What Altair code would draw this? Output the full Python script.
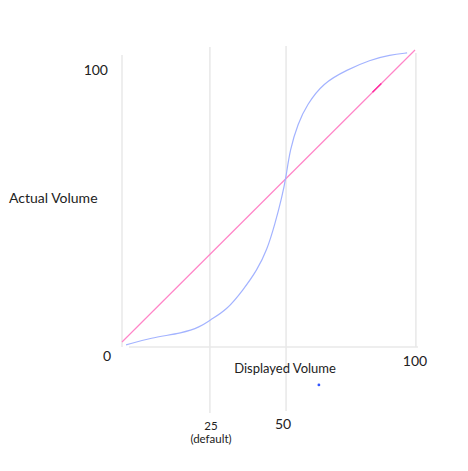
import altair as alt
import pandas as pd

# S-shaped volume curve (displayed -> actual)
curve_x = [1.4, 9.6, 20.8, 26.6, 30.0, 35.8, 41.3, 46.1, 49.5, 52.2, 54.6, 56.0,
           57.3, 60.1, 63.1, 68.6, 76.8, 84.6, 91.5, 97.3]
curve_y = [-1.0, 1.4, 3.1, 5.1, 7.5, 11.0, 17.8, 24.6, 31.5, 40.4, 49.7, 56.5,
           65.8, 75.0, 81.2, 88.7, 93.2, 96.6, 98.3, 99.0]

# identity (linear) reference line
ident_x = [0, 100]
ident_y = [0, 100]

# highlighted short piece of the identity line
hi_x = [85.5, 88.5]

# vertical guide lines
grid_x = [0, 30, 56, 100.3]
grid_top = [98.3, 101, 101.4, 99]
grid_bottom = [-1.7, -24.3, -23.6, -1.7]

# horizontal base line
base_x = [2.4, 101]
base_y = -1.7

# stray dot
dot_x = [67.2]
dot_y = [-14.7]

FONT = "Lato"
xs = alt.Scale(domain=[0, 100], range=[114, 407], nice=False, zero=False)
ys = alt.Scale(domain=[0, 100], range=[334, 42], nice=False, zero=False)

grid = alt.Chart(pd.DataFrame({"x": grid_x, "y": grid_bottom, "y2": grid_top})).mark_rule(
    color="#e8e8e8", strokeWidth=1.5
).encode(
    x=alt.X("x:Q", scale=xs, axis=None),
    y=alt.Y("y:Q", scale=ys, axis=None),
    y2="y2:Q",
)

base = alt.Chart(pd.DataFrame({"x": [base_x[0]], "x2": [base_x[1]], "y": [base_y]})).mark_rule(
    color="#e8e8e8", strokeWidth=1.5
).encode(
    x=alt.X("x:Q", scale=xs, axis=None),
    x2="x2:Q",
    y=alt.Y("y:Q", scale=ys, axis=None),
)

ident = alt.Chart(pd.DataFrame({"x": ident_x, "y": ident_y})).mark_line(
    color="#ff85c8", strokeWidth=1.2
).encode(
    x=alt.X("x:Q", scale=xs, axis=None),
    y=alt.Y("y:Q", scale=ys, axis=None),
)

hi = alt.Chart(pd.DataFrame({"x": hi_x, "y": hi_x})).mark_line(
    color="#ff2a9f", strokeWidth=1.4
).encode(
    x=alt.X("x:Q", scale=xs, axis=None),
    y=alt.Y("y:Q", scale=ys, axis=None),
)

curve = alt.Chart(pd.DataFrame({"x": curve_x, "y": curve_y})).mark_line(
    color="#a3b3ff", strokeWidth=1.2, interpolate="basis"
).encode(
    x=alt.X("x:Q", scale=xs, axis=None),
    y=alt.Y("y:Q", scale=ys, axis=None),
)

dot = alt.Chart(pd.DataFrame({"x": dot_x, "y": dot_y})).mark_point(
    filled=True, color="#3355ff", size=8, opacity=1
).encode(
    x=alt.X("x:Q", scale=xs, axis=None),
    y=alt.Y("y:Q", scale=ys, axis=None),
)


def label(text, px, py, size=13, align="center"):
    return alt.Chart(pd.DataFrame({"t": [text]})).mark_text(
        font=FONT, fontSize=size, color="#222222", align=align, baseline="middle"
    ).encode(x=alt.value(px), y=alt.value(py), text="t:N")


texts = [
    label("100", 100, 63, 14, "right"),
    label("0", 99, 349, 14),
    label("Actual Volume", 1, 191, 14, "left"),
    label("100", 407, 354, 14),
    label("Displayed Volume", 277, 361, 13),
    label("25", 203, 419, 11.5),
    label("(default)", 203, 432, 11.5),
    label("50", 275, 417, 14),
]

chart = alt.layer(grid, base, ident, hi, curve, dot, *texts).properties(
    width=450, height=450, autosize=alt.AutoSizeParams(type="none"), padding=0
).configure_view(stroke=None)

chart.save("out.html", embed_options={"renderer": "svg", "actions": False})
